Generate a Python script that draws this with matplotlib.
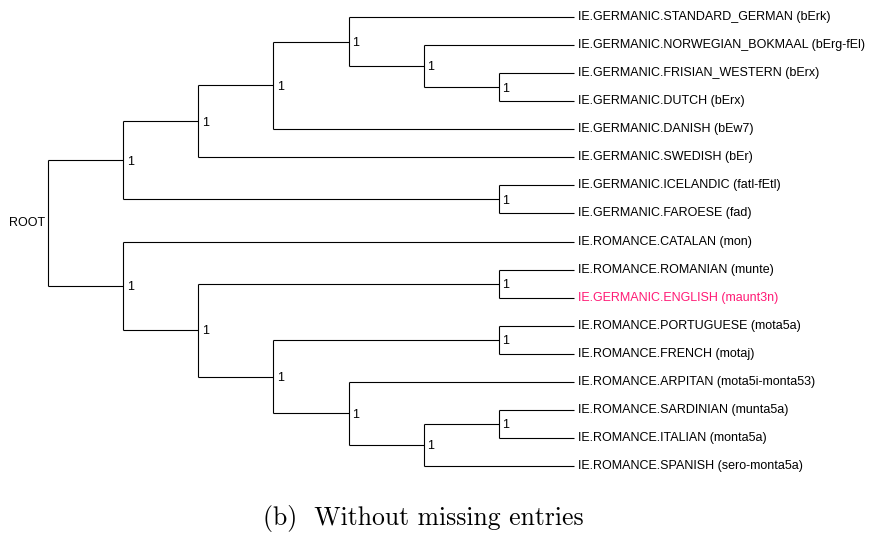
import matplotlib
matplotlib.use("Agg")
import matplotlib.pyplot as plt

# leaves, top to bottom
leaves = [
    "IE.GERMANIC.STANDARD_GERMAN (bErk)",
    "IE.GERMANIC.NORWEGIAN_BOKMAAL (bErg-fEl)",
    "IE.GERMANIC.FRISIAN_WESTERN (bErx)",
    "IE.GERMANIC.DUTCH (bErx)",
    "IE.GERMANIC.DANISH (bEw7)",
    "IE.GERMANIC.SWEDISH (bEr)",
    "IE.GERMANIC.ICELANDIC (fatl-fEtl)",
    "IE.GERMANIC.FAROESE (fad)",
    "IE.ROMANCE.CATALAN (mon)",
    "IE.ROMANCE.ROMANIAN (munte)",
    "IE.GERMANIC.ENGLISH (maunt3n)",
    "IE.ROMANCE.PORTUGUESE (mota5a)",
    "IE.ROMANCE.FRENCH (motaj)",
    "IE.ROMANCE.ARPITAN (mota5i-monta53)",
    "IE.ROMANCE.SARDINIAN (munta5a)",
    "IE.ROMANCE.ITALIAN (monta5a)",
    "IE.ROMANCE.SPANISH (sero-monta5a)",
]
highlight = [10]

# tree topology (leaf indices), all internal supports = 1
germanic = ((((0, (1, (2, 3))), 4), 5), (6, 7))
romance = (8, ((9, 10), ((11, 12), (13, ((14, 15), 16)))))
tree = (germanic, romance)
support = "1"

caption = "(b)  Without missing entries"

W, H = 872, 534
fig = plt.figure(figsize=(W / 100, H / 100), dpi=100)
ax = fig.add_axes([48 / W, 1 - 466 / H, 526 / W, 449 / H])
ax.set_xlim(0, 7)
ax.set_ylim(16, 0)
ax.axis("off")

lw = 0.8
fs = 9


def height(node):
    if isinstance(node, int):
        return 0
    return 1 + max(height(c) for c in node)


max_h = height(tree)


def draw(node):
    """returns (x, y) of node"""
    if isinstance(node, int):
        return max_h, node
    h = height(node)
    x = max_h - h
    pts = [draw(c) for c in node]
    ys = [p[1] for p in pts]
    y = (min(ys) + max(ys)) / 2.0
    ax.plot([x, x], [min(ys), max(ys)], color="black", lw=lw,
            clip_on=False, solid_capstyle="butt")
    for cx, cy in pts:
        ax.plot([x, cx], [cy, cy], color="black", lw=lw, clip_on=False,
                solid_capstyle="butt")
    if node is not tree:
        ax.annotate(support, (x, y), xytext=(2.5, -1), textcoords="offset points",
                    ha="left", va="center", fontsize=fs,
                    family="Liberation Sans")
    return x, y


rx, ry = draw(tree)
ax.annotate("ROOT", (rx, ry), xytext=(-2, 0), textcoords="offset points",
            ha="right", va="center", fontsize=fs, family="Liberation Sans")

for i, name in enumerate(leaves):
    col = "#ff1a75" if i in highlight else "black"
    ax.annotate(name, (max_h, i), xytext=(3, 0), textcoords="offset points",
                ha="left", va="center", fontsize=fs, color=col,
                family="Liberation Sans")

fig.text(423 / W, 1 - 519 / H, caption, ha="center", va="center",
         fontsize=18.5, family="cmr10")

fig.savefig("out.png", dpi=100, facecolor="white")
